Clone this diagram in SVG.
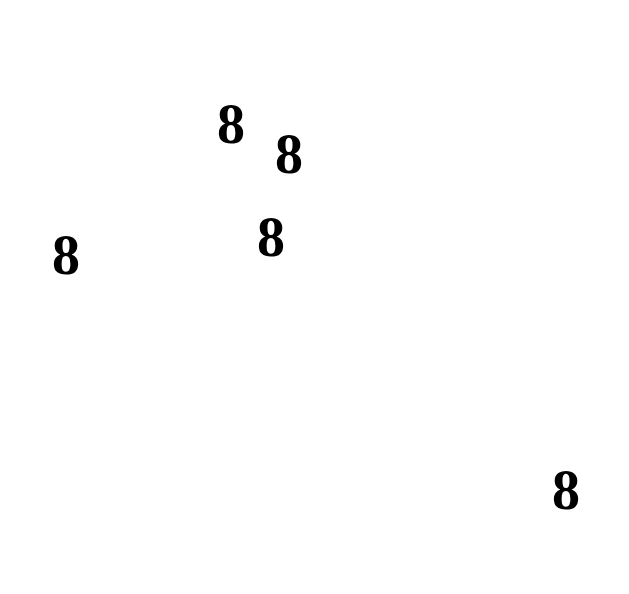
<svg xmlns="http://www.w3.org/2000/svg" width="629" height="594" viewBox="0 0 629 594">
<style>
.n{font-family:"Liberation Serif","Times New Roman",serif;font-weight:bold;font-size:56px;fill:#000;text-anchor:middle}
</style>
<rect width="629" height="594" fill="#fff"/>
<g id="connectors"/>
<g id="n1"><text class="n" x="231" y="143">8</text></g>
<g id="n2"><text class="n" x="289" y="173">8</text></g>
<g id="n3"><text class="n" x="271" y="256">8</text></g>
<g id="n4"><text class="n" x="66" y="274">8</text></g>
<g id="n5"><text class="n" x="566" y="509">8</text></g>
</svg>
